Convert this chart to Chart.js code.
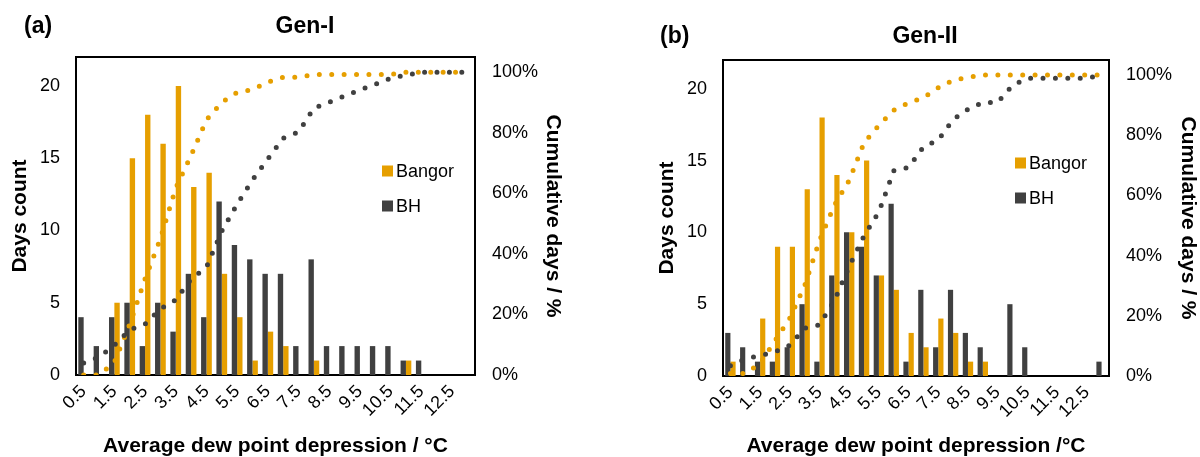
<!DOCTYPE html>
<html><head><meta charset="utf-8">
<script src="https://cdn.jsdelivr.net/npm/chart.js@4/dist/chart.umd.min.js"></script>
<style>
html,body{margin:0;padding:0;background:#fff;}
#wrap{position:relative;width:1200px;height:457px;overflow:hidden;}
.c{position:absolute;top:0;width:600px;height:457px;}
canvas{display:block;}
</style></head><body>
<div id="wrap">
<div class="c" style="left:0"><canvas id="c1" width="600" height="457"></canvas></div>
<div class="c" style="left:600px"><canvas id="c2" width="600" height="457"></canvas></div>
</div>
<script>
// Categories: average dew point depression / °C (bin centres)
const categories = ['0.5','1.0','1.5','2.0','2.5','3.0','3.5','4.0','4.5','5.0','5.5','6.0','6.5','7.0','7.5','8.0','8.5','9.0','9.5','10.0','10.5','11.0','11.5','12.0','12.5','13.0'];
const seriesNames = ['Bangor','BH'];

// Gen-I
const genI_bangor = [0,0,5,15,18,16,20,13,14,7,4,1,3,2,0,1,0,0,0,0,0,1,0,0,0,0];
const genI_bh     = [4,2,4,5,2,5,3,7,4,12,9,8,7,7,2,8,2,2,2,2,2,1,1,0,0,0];
const genI_bangorCum = [0,0,4.2,16.7,31.7,45.0,61.7,72.5,84.2,90.0,93.3,94.2,96.7,98.3,98.3,99.2,99.2,99.2,99.2,99.2,99.2,100,100,100,100,100];
const genI_bhCum     = [4.0,5.9,9.9,14.9,16.8,21.8,24.8,31.7,35.6,47.5,56.4,64.4,71.3,78.2,80.2,88.1,90.1,92.1,94.1,96.0,98.0,99.0,100,100,100,100];

// Gen-II
const genII_bangor = [1,0,4,9,9,13,18,14,10,15,7,6,3,2,4,3,1,1,0,0,0,0,0,0,0,0];
const genII_bh     = [3,2,1,1,2,5,1,7,10,9,7,12,1,6,2,6,3,2,0,5,2,0,0,0,0,1];
const genII_bangorCum = [0.8,0.8,4.2,11.7,19.2,30.0,45.0,56.7,65.0,77.5,83.3,88.3,90.8,92.5,95.8,98.3,99.2,100,100,100,100,100,100,100,100,100];
const genII_bhCum     = [3.4,5.7,6.8,8.0,10.2,15.9,17.0,25.0,36.4,46.6,54.5,68.2,69.3,76.1,78.4,85.2,88.6,90.9,90.9,96.6,98.9,98.9,98.9,98.9,98.9,100];

const countTicks = [0,5,10,15,20];
const pctTicks = [0,20,40,60,80,100];

const ORANGE = '#E69F00';
const DARK = '#404040';
const FONT = "'Liberation Sans', Arial, sans-serif";

function makeChart(id, p) {
  const deco = {
    id: 'deco',
    beforeDatasetsDraw(chart) {
      const {ctx, chartArea: a} = chart;
      ctx.save();
      ctx.strokeStyle = '#000';
      ctx.lineWidth = 2;
      ctx.strokeRect(a.left, a.top, a.right - a.left, a.bottom - a.top);
      ctx.restore();
    },
    afterDraw(chart) {
      const ctx = chart.ctx;
      ctx.save();
      ctx.fillStyle = '#000';
      ctx.textBaseline = 'middle';
      ctx.font = 'bold 23px ' + FONT;
      ctx.textAlign = 'left';
      ctx.fillText(p.panel, p.panelX, p.titleY);
      ctx.textAlign = 'center';
      ctx.fillText(p.title, p.titleX, p.titleY);
      ctx.font = '18px ' + FONT;
      ctx.textAlign = 'left';
      const cols = [ORANGE, DARK];
      seriesNames.forEach((n, i) => {
        const y = p.legY + i * p.legGap;
        ctx.fillStyle = cols[i];
        ctx.fillRect(p.legX, y - 5.5, 11, 11);
        ctx.fillStyle = '#000';
        ctx.fillText(n, p.legX + 14, y + 1);
      });
      ctx.restore();
    }
  };
  return new Chart(document.getElementById(id), {
    type: 'bar',
    data: {
      labels: categories,
      datasets: [
        {type: 'line', label: 'Bangor cumulative', data: p.bangorCum, yAxisID: 'y1', borderColor: ORANGE, borderWidth: 5, borderDash: [0, 12.4], borderCapStyle: 'round', pointRadius: 0, fill: false, tension: 0, order: 1},
        {type: 'line', label: 'BH cumulative', data: p.bhCum, yAxisID: 'y1', borderColor: DARK, borderWidth: 5, borderDash: [0, 12.4], borderCapStyle: 'round', pointRadius: 0, fill: false, tension: 0, order: 0},
        {label: 'Bangor', data: p.bangor, yAxisID: 'y', backgroundColor: ORANGE, categoryPercentage: 0.7, barPercentage: 1.0, order: 3},
        {label: 'BH', data: p.bh, yAxisID: 'y', backgroundColor: DARK, categoryPercentage: 0.7, barPercentage: 1.0, order: 2}
      ]
    },
    options: {
      responsive: false,
      animation: false,
      devicePixelRatio: 1,
      layout: {padding: {top: p.top, left: 0, right: 0, bottom: 0}},
      plugins: {legend: {display: false}, tooltip: {enabled: false}, title: {display: false}},
      scales: {
        x: {
          grid: {display: false, drawTicks: false},
          border: {display: false},
          ticks: {autoSkip: false, minRotation: 45, maxRotation: 45, padding: 6, color: '#000', font: {family: FONT, size: 18},
            callback: (v, i) => (i % 2 === 0 ? categories[i] : '')},
          title: {display: true, text: p.xTitle, color: '#000', font: {family: FONT, size: 21, weight: 'bold', lineHeight: 1}, padding: {top: 0, bottom: 0.5}},
          afterFit(s) { s.height = p.xH; }
        },
        y: {
          position: 'left', min: 0, max: 22,
          grid: {display: false, drawTicks: false},
          border: {display: false},
          ticks: {stepSize: 5, padding: 16, color: '#000', font: {family: FONT, size: 18}},
          afterBuildTicks(s) { s.ticks = countTicks.map(v => ({value: v})); },
          title: {display: true, text: 'Days count', color: '#000', font: {family: FONT, size: 21, weight: 'bold', lineHeight: 1}, padding: {top: p.yTitlePad, bottom: 0}},
          afterFit(s) { s.width = p.yW; }
        },
        y1: {
          position: 'right', min: 0, max: 105,
          grid: {display: false, drawTicks: false},
          border: {display: false},
          ticks: {stepSize: 20, padding: 17, color: '#000', font: {family: FONT, size: 18}, callback: v => v + '%'},
          afterBuildTicks(s) { s.ticks = pctTicks.map(v => ({value: v})); },
          title: {display: true, text: 'Cumulative days / %', color: '#000', font: {family: FONT, size: 21, weight: 'bold', lineHeight: 1}, padding: {top: p.y1TitlePad, bottom: 0}},
          afterFit(s) { s.width = p.y1W; }
        }
      }
    },
    plugins: [deco]
  });
}

makeChart('c1', {
  bangor: genI_bangor, bh: genI_bh, bangorCum: genI_bangorCum, bhCum: genI_bhCum,
  top: 57, xH: 82, yW: 76, y1W: 125, yTitlePad: 9.5, y1TitlePad: 36.5,
  xTitle: 'Average dew point depression / °C',
  panel: '(a)', panelX: 24, title: 'Gen-I', titleX: 305, titleY: 27,
  legX: 382, legY: 171, legGap: 35
});
makeChart('c2', {
  bangor: genII_bangor, bh: genII_bh, bangorCum: genII_bangorCum, bhCum: genII_bhCum,
  top: 60, xH: 81, yW: 123, y1W: 91, yTitlePad: 56.5, y1TitlePad: 1.5,
  xTitle: 'Average dew point depression /°C',
  panel: '(b)', panelX: 60, title: 'Gen-II', titleX: 325, titleY: 37,
  legX: 415, legY: 163, legGap: 35
});
</script>
</body></html>
